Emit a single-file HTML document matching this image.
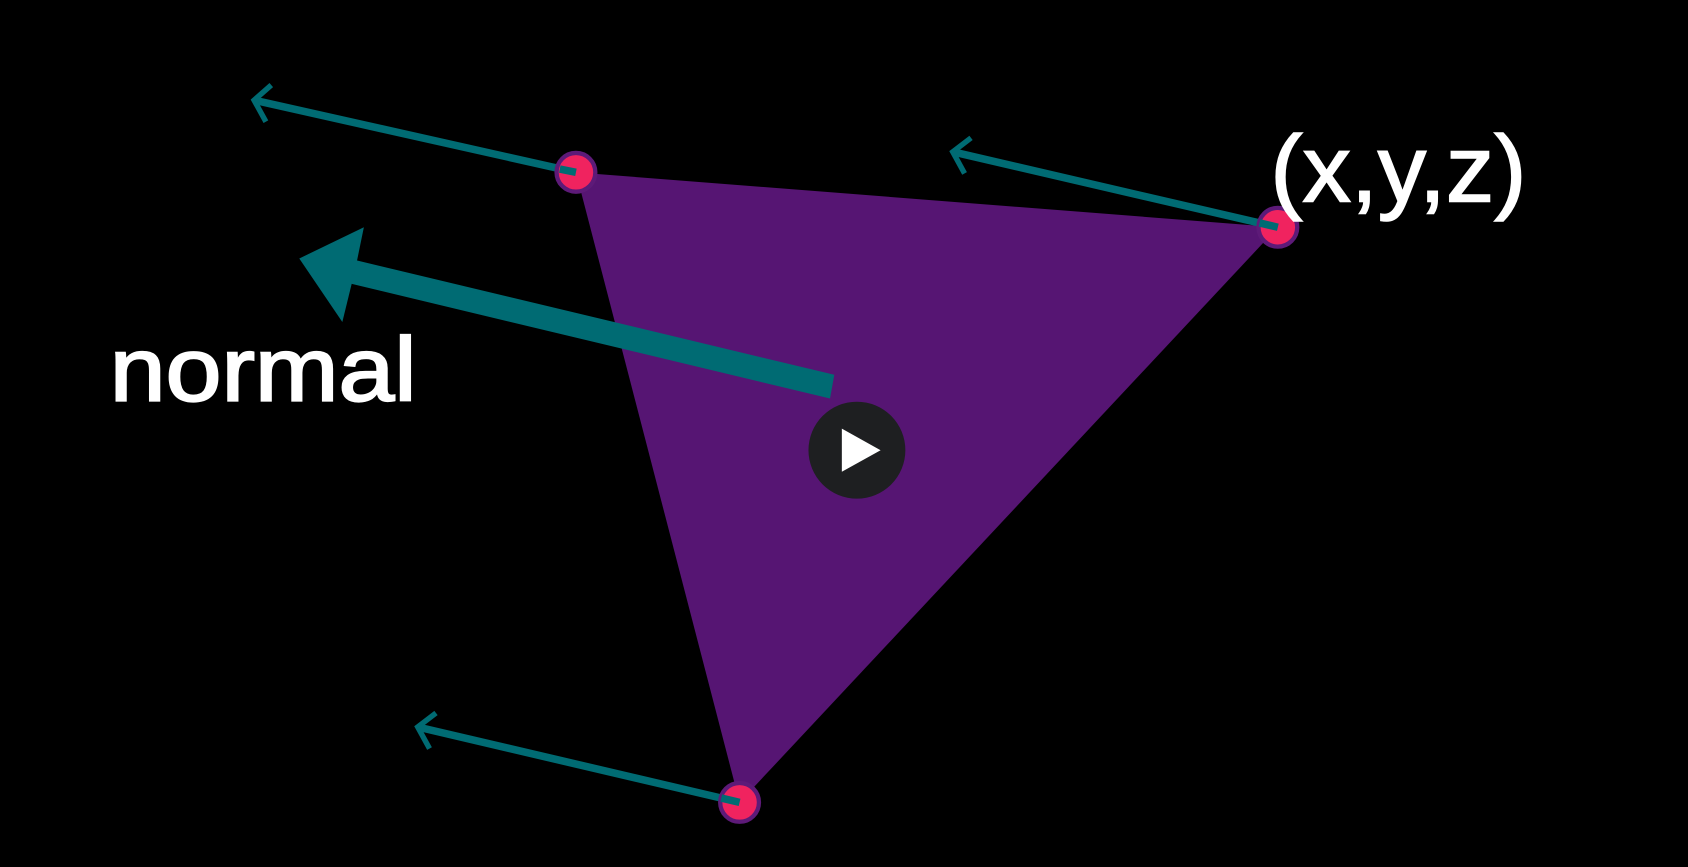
<!DOCTYPE html>
<html><head><meta charset="utf-8"><style>
html,body{margin:0;padding:0;background:#000;width:1688px;height:867px;overflow:hidden}
svg{display:block}
text{font-family:"Liberation Sans","DejaVu Sans",sans-serif;fill:#fff}
</style></head><body>
<svg width="1688" height="867" viewBox="0 0 1568 805" preserveAspectRatio="none">
<rect x="0" y="0" width="1568" height="805" fill="#000"/>
<polygon points="535,160 1187,211 687,745" fill="#561573"/>
<g stroke="#006b73" fill="none" stroke-width="7">
<line x1="535" y1="160" x2="236" y2="93"/>
<polyline points="252,79 236,93 247,113" stroke-width="5"/>
</g>
<g stroke="#006b73" fill="none" stroke-width="7">
<line x1="1187" y1="211" x2="885" y2="141"/>
<polyline points="902,128 885,141 896,161" stroke-width="5"/>
</g>
<g stroke="#006b73" fill="none" stroke-width="7">
<line x1="687" y1="745" x2="388" y2="675"/>
<polyline points="405,662 388,675 399,695" stroke-width="5"/>
</g>
<g fill="#006b73">
<polygon points="775,348 771,370 320,262 324,240"/>
<polygon points="278,240 338,211 330,250 318,299"/>
</g>
<circle cx="535" cy="160" r="18" fill="#f0235f" stroke="#5d1a78" stroke-width="4"/>
<circle cx="1187" cy="211" r="18" fill="#f0235f" stroke="#5d1a78" stroke-width="4"/>
<circle cx="687" cy="745" r="18" fill="#f0235f" stroke="#5d1a78" stroke-width="4"/>
<line x1="535" y1="160" x2="520" y2="157" stroke="#006b73" stroke-width="7"/>
<line x1="1187" y1="211" x2="1170" y2="207" stroke="#006b73" stroke-width="7"/>
<line x1="687" y1="745" x2="670" y2="741" stroke="#006b73" stroke-width="7"/>
<text x="102" y="372" font-size="84" stroke="#fff" stroke-width="2" textLength="285" lengthAdjust="spacingAndGlyphs">normal</text>
<text x="1180" y="187" font-size="88" stroke="#fff" stroke-width="1.5" textLength="238" lengthAdjust="spacingAndGlyphs">(x,y,z)</text>
<g>
<circle cx="796" cy="418" r="45" fill="#1e1f21"/>
<polygon points="782,398 782,438 818,418" fill="#fff"/>
</g>
</svg>
</body></html>
